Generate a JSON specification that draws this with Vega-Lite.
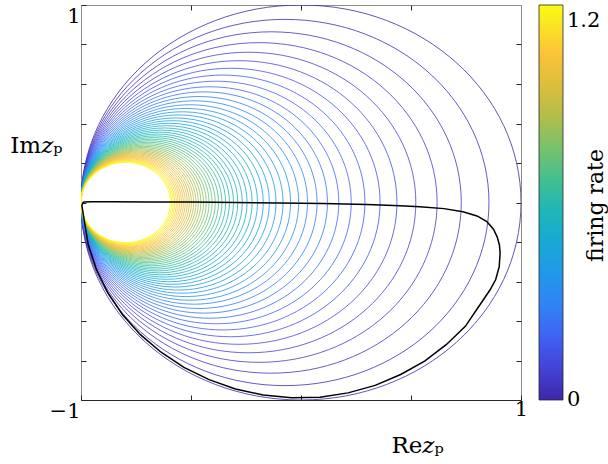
{
  "$schema": "https://vega.github.io/schema/vega-lite/v6.json",
  "width": 440,
  "height": 395,
  "autosize": {"type": "none"},
  "padding": {"left": 81, "top": 5, "right": 87, "bottom": 64},
  "background": "white",
  "config": {
    "font": "DejaVu Serif",
    "view": {"stroke": "#8a8a8a", "strokeWidth": 1},
    "axis": {
      "grid": false,
      "labelFont": "DejaVu Serif",
      "titleFont": "DejaVu Serif",
      "labelFontSize": 21,
      "titleFontSize": 23,
      "titleFontWeight": "normal",
      "labelColor": "#000000",
      "titleColor": "#000000",
      "tickColor": "#262626",
      "tickSize": -5,
      "labelFlush": false,
      "labelOverlap": false
    },
    "legend": {
      "labelFont": "DejaVu Serif",
      "titleFont": "DejaVu Serif"
    }
  },
  "datasets": {
    "circles": [
      {"rate": 0, "cx": 0, "rad": 1},
      {"rate": 0.025, "cx": -0.07282, "rad": 0.92718},
      {"rate": 0.05, "cx": -0.13576, "rad": 0.86424},
      {"rate": 0.075, "cx": -0.19069, "rad": 0.80931},
      {"rate": 0.1, "cx": -0.23906, "rad": 0.76094},
      {"rate": 0.125, "cx": -0.28197, "rad": 0.71803},
      {"rate": 0.15, "cx": -0.3203, "rad": 0.6797},
      {"rate": 0.175, "cx": -0.35475, "rad": 0.64525},
      {"rate": 0.2, "cx": -0.38587, "rad": 0.61413},
      {"rate": 0.225, "cx": -0.41413, "rad": 0.58587},
      {"rate": 0.25, "cx": -0.4399, "rad": 0.5601},
      {"rate": 0.275, "cx": -0.4635, "rad": 0.5365},
      {"rate": 0.3, "cx": -0.48519, "rad": 0.51481},
      {"rate": 0.325, "cx": -0.5052, "rad": 0.4948},
      {"rate": 0.35, "cx": -0.52371, "rad": 0.47629},
      {"rate": 0.375, "cx": -0.54088, "rad": 0.45912},
      {"rate": 0.4, "cx": -0.55686, "rad": 0.44314},
      {"rate": 0.425, "cx": -0.57177, "rad": 0.42823},
      {"rate": 0.45, "cx": -0.5857, "rad": 0.4143},
      {"rate": 0.475, "cx": -0.59876, "rad": 0.40124},
      {"rate": 0.5, "cx": -0.61102, "rad": 0.38898},
      {"rate": 0.525, "cx": -0.62255, "rad": 0.37745},
      {"rate": 0.55, "cx": -0.63341, "rad": 0.36659},
      {"rate": 0.575, "cx": -0.64367, "rad": 0.35633},
      {"rate": 0.6, "cx": -0.65337, "rad": 0.34663},
      {"rate": 0.625, "cx": -0.66256, "rad": 0.33744},
      {"rate": 0.65, "cx": -0.67127, "rad": 0.32873},
      {"rate": 0.675, "cx": -0.67955, "rad": 0.32045},
      {"rate": 0.7, "cx": -0.68741, "rad": 0.31259},
      {"rate": 0.725, "cx": -0.6949, "rad": 0.3051},
      {"rate": 0.75, "cx": -0.70204, "rad": 0.29796},
      {"rate": 0.775, "cx": -0.70886, "rad": 0.29114},
      {"rate": 0.8, "cx": -0.71536, "rad": 0.28464},
      {"rate": 0.825, "cx": -0.72159, "rad": 0.27841},
      {"rate": 0.85, "cx": -0.72755, "rad": 0.27245},
      {"rate": 0.875, "cx": -0.73325, "rad": 0.26675},
      {"rate": 0.9, "cx": -0.73873, "rad": 0.26127},
      {"rate": 0.925, "cx": -0.74398, "rad": 0.25602},
      {"rate": 0.95, "cx": -0.74903, "rad": 0.25097},
      {"rate": 0.975, "cx": -0.75388, "rad": 0.24612},
      {"rate": 1.0, "cx": -0.75855, "rad": 0.24145},
      {"rate": 1.025, "cx": -0.76304, "rad": 0.23696},
      {"rate": 1.05, "cx": -0.76737, "rad": 0.23263},
      {"rate": 1.075, "cx": -0.77154, "rad": 0.22846},
      {"rate": 1.1, "cx": -0.77557, "rad": 0.22443},
      {"rate": 1.125, "cx": -0.77946, "rad": 0.22054},
      {"rate": 1.15, "cx": -0.78321, "rad": 0.21679},
      {"rate": 1.175, "cx": -0.78684, "rad": 0.21316},
      {"rate": 1.2, "cx": -0.79035, "rad": 0.20965},
      {"rate": 1.225, "cx": -0.79375, "rad": 0.20625},
      {"rate": 1.25, "cx": -0.79704, "rad": 0.20296}
    ],
    "orbit": [
      {"step": 0, "x": -0.99, "y": 0.003},
      {"step": 1, "x": -0.95, "y": 0.004},
      {"step": 2, "x": -0.85, "y": 0.004},
      {"step": 3, "x": -0.7, "y": 0.003},
      {"step": 4, "x": -0.5, "y": 0.002},
      {"step": 5, "x": -0.3, "y": 0.0},
      {"step": 6, "x": -0.1, "y": -0.002},
      {"step": 7, "x": 0.1, "y": -0.005},
      {"step": 8, "x": 0.3, "y": -0.01},
      {"step": 9, "x": 0.45, "y": -0.016},
      {"step": 10, "x": 0.54, "y": -0.021},
      {"step": 11, "x": 0.65, "y": -0.031},
      {"step": 12, "x": 0.736, "y": -0.047},
      {"step": 13, "x": 0.8, "y": -0.068},
      {"step": 14, "x": 0.845, "y": -0.097},
      {"step": 15, "x": 0.875, "y": -0.135},
      {"step": 16, "x": 0.892, "y": -0.175},
      {"step": 17, "x": 0.902, "y": -0.215},
      {"step": 18, "x": 0.905, "y": -0.256},
      {"step": 19, "x": 0.901, "y": -0.325},
      {"step": 20, "x": 0.885, "y": -0.39},
      {"step": 21, "x": 0.859, "y": -0.443},
      {"step": 22, "x": 0.815, "y": -0.515},
      {"step": 23, "x": 0.747, "y": -0.627},
      {"step": 24, "x": 0.66, "y": -0.72},
      {"step": 25, "x": 0.562, "y": -0.803},
      {"step": 26, "x": 0.453, "y": -0.871},
      {"step": 27, "x": 0.337, "y": -0.926},
      {"step": 28, "x": 0.214, "y": -0.964},
      {"step": 29, "x": 0.086, "y": -0.986},
      {"step": 30, "x": -0.043, "y": -0.989},
      {"step": 31, "x": -0.172, "y": -0.975},
      {"step": 32, "x": -0.298, "y": -0.944},
      {"step": 33, "x": -0.418, "y": -0.897},
      {"step": 34, "x": -0.532, "y": -0.835},
      {"step": 35, "x": -0.636, "y": -0.758},
      {"step": 36, "x": -0.73, "y": -0.669},
      {"step": 37, "x": -0.811, "y": -0.568},
      {"step": 38, "x": -0.878, "y": -0.457},
      {"step": 39, "x": -0.93, "y": -0.339},
      {"step": 40, "x": -0.967, "y": -0.214},
      {"step": 41, "x": -0.986, "y": -0.086},
      {"step": 42, "x": -0.996, "y": -0.015},
      {"step": 43, "x": -0.99, "y": 0.003}
    ]
  },
  "layer": [
    {
      "data": {"name": "circles"},
      "mark": {
        "type": "point",
        "shape": "M1,0C1,0.49582 0.5523,0.89773 0,0.89773C-0.5523,0.89773 -1,0.49582 -1,0C-1,-0.49582 -0.5523,-0.89773 0,-0.89773C0.5523,-0.89773 1,-0.49582 1,0Z",
        "filled": false,
        "strokeWidth": 0.8,
        "opacity": 1,
        "clip": true
      },
      "encoding": {
        "x": {
          "field": "cx",
          "type": "quantitative",
          "scale": {"domain": [-1, 1], "nice": false, "zero": false},
          "axis": {
            "orient": "bottom",
            "values": [-1, -0.5, 0, 0.5, 1],
            "labelExpr": "datum.value == 1 ? '1' : ''",
            "labelPadding": 3,
            "domain": true,
            "domainColor": "#262626",
            "title": "Re𝑧ₚ",
            "titleX": 336,
            "titleY": 52,
            "titleAlign": "center",
            "titleBaseline": "alphabetic"
          }
        },
        "y": {
          "datum": 0,
          "type": "quantitative",
          "scale": {"domain": [-1, 1], "nice": false, "zero": false},
          "axis": {
            "orient": "left",
            "values": [-1, -0.8, -0.6, -0.4, -0.2, 0, 0.2, 0.4, 0.6, 0.8, 1],
            "labelExpr": "datum.value == 1 ? '1' : datum.value == -1 ? '−1' : ''",
            "labelOffset": 11,
            "labelPadding": 6,
            "domain": false,
            "title": "Im𝑧ₚ",
            "titleAngle": 0,
            "titleX": -19,
            "titleY": 147,
            "titleAlign": "right",
            "titleBaseline": "alphabetic"
          }
        },
        "size": {
          "field": "rad",
          "type": "quantitative",
          "scale": {"type": "pow", "exponent": 2, "domain": [0, 1], "range": [0, 193600]},
          "legend": null
        },
        "color": {
          "field": "rate",
          "type": "quantitative",
          "scale": {
            "domain": [0, 1.25],
            "range": ["#3e26a8", "#4653f1", "#2f87f6", "#16a5df", "#1ebbae", "#6ec36f", "#cabb3f", "#fdc238", "#f9fb15"],
            "interpolate": "rgb"
          },
          "legend": {
            "orient": "none",
            "legendX": 458,
            "legendY": 0,
            "direction": "vertical",
            "gradientLength": 395,
            "gradientThickness": 24,
            "gradientStrokeColor": "#262626",
            "gradientStrokeWidth": 0.8,
            "values": [0.001, 1.2],
            "labelExpr": "datum.value < 0.01 ? '0' : '1.2'",
            "labelFontSize": 21,
            "labelColor": "#000000",
            "labelOffset": 4,
            "labelOverlap": false,
            "padding": 0,
            "title": null
          }
        }
      }
    },
    {
      "data": {"name": "orbit"},
      "mark": {"type": "line", "color": "#000000", "strokeWidth": 1.5, "clip": true},
      "encoding": {
        "x": {
          "field": "x",
          "type": "quantitative",
          "axis": {"orient": "top", "values": [-0.5, 0, 0.5], "labels": false, "domain": false, "title": null}
        },
        "y": {
          "field": "y",
          "type": "quantitative",
          "axis": {
            "orient": "right",
            "values": [-0.8, -0.6, -0.4, -0.2, 0, 0.2, 0.4, 0.6, 0.8],
            "labels": false,
            "domain": false,
            "title": "firing rate",
            "titleFontSize": 22,
            "titleAngle": 270,
            "titleX": 74,
            "titleY": 200,
            "titleAlign": "center",
            "titleBaseline": "middle"
          }
        },
        "order": {"field": "step", "type": "quantitative"}
      }
    }
  ],
  "resolve": {"axis": {"x": "independent", "y": "independent"}}
}
